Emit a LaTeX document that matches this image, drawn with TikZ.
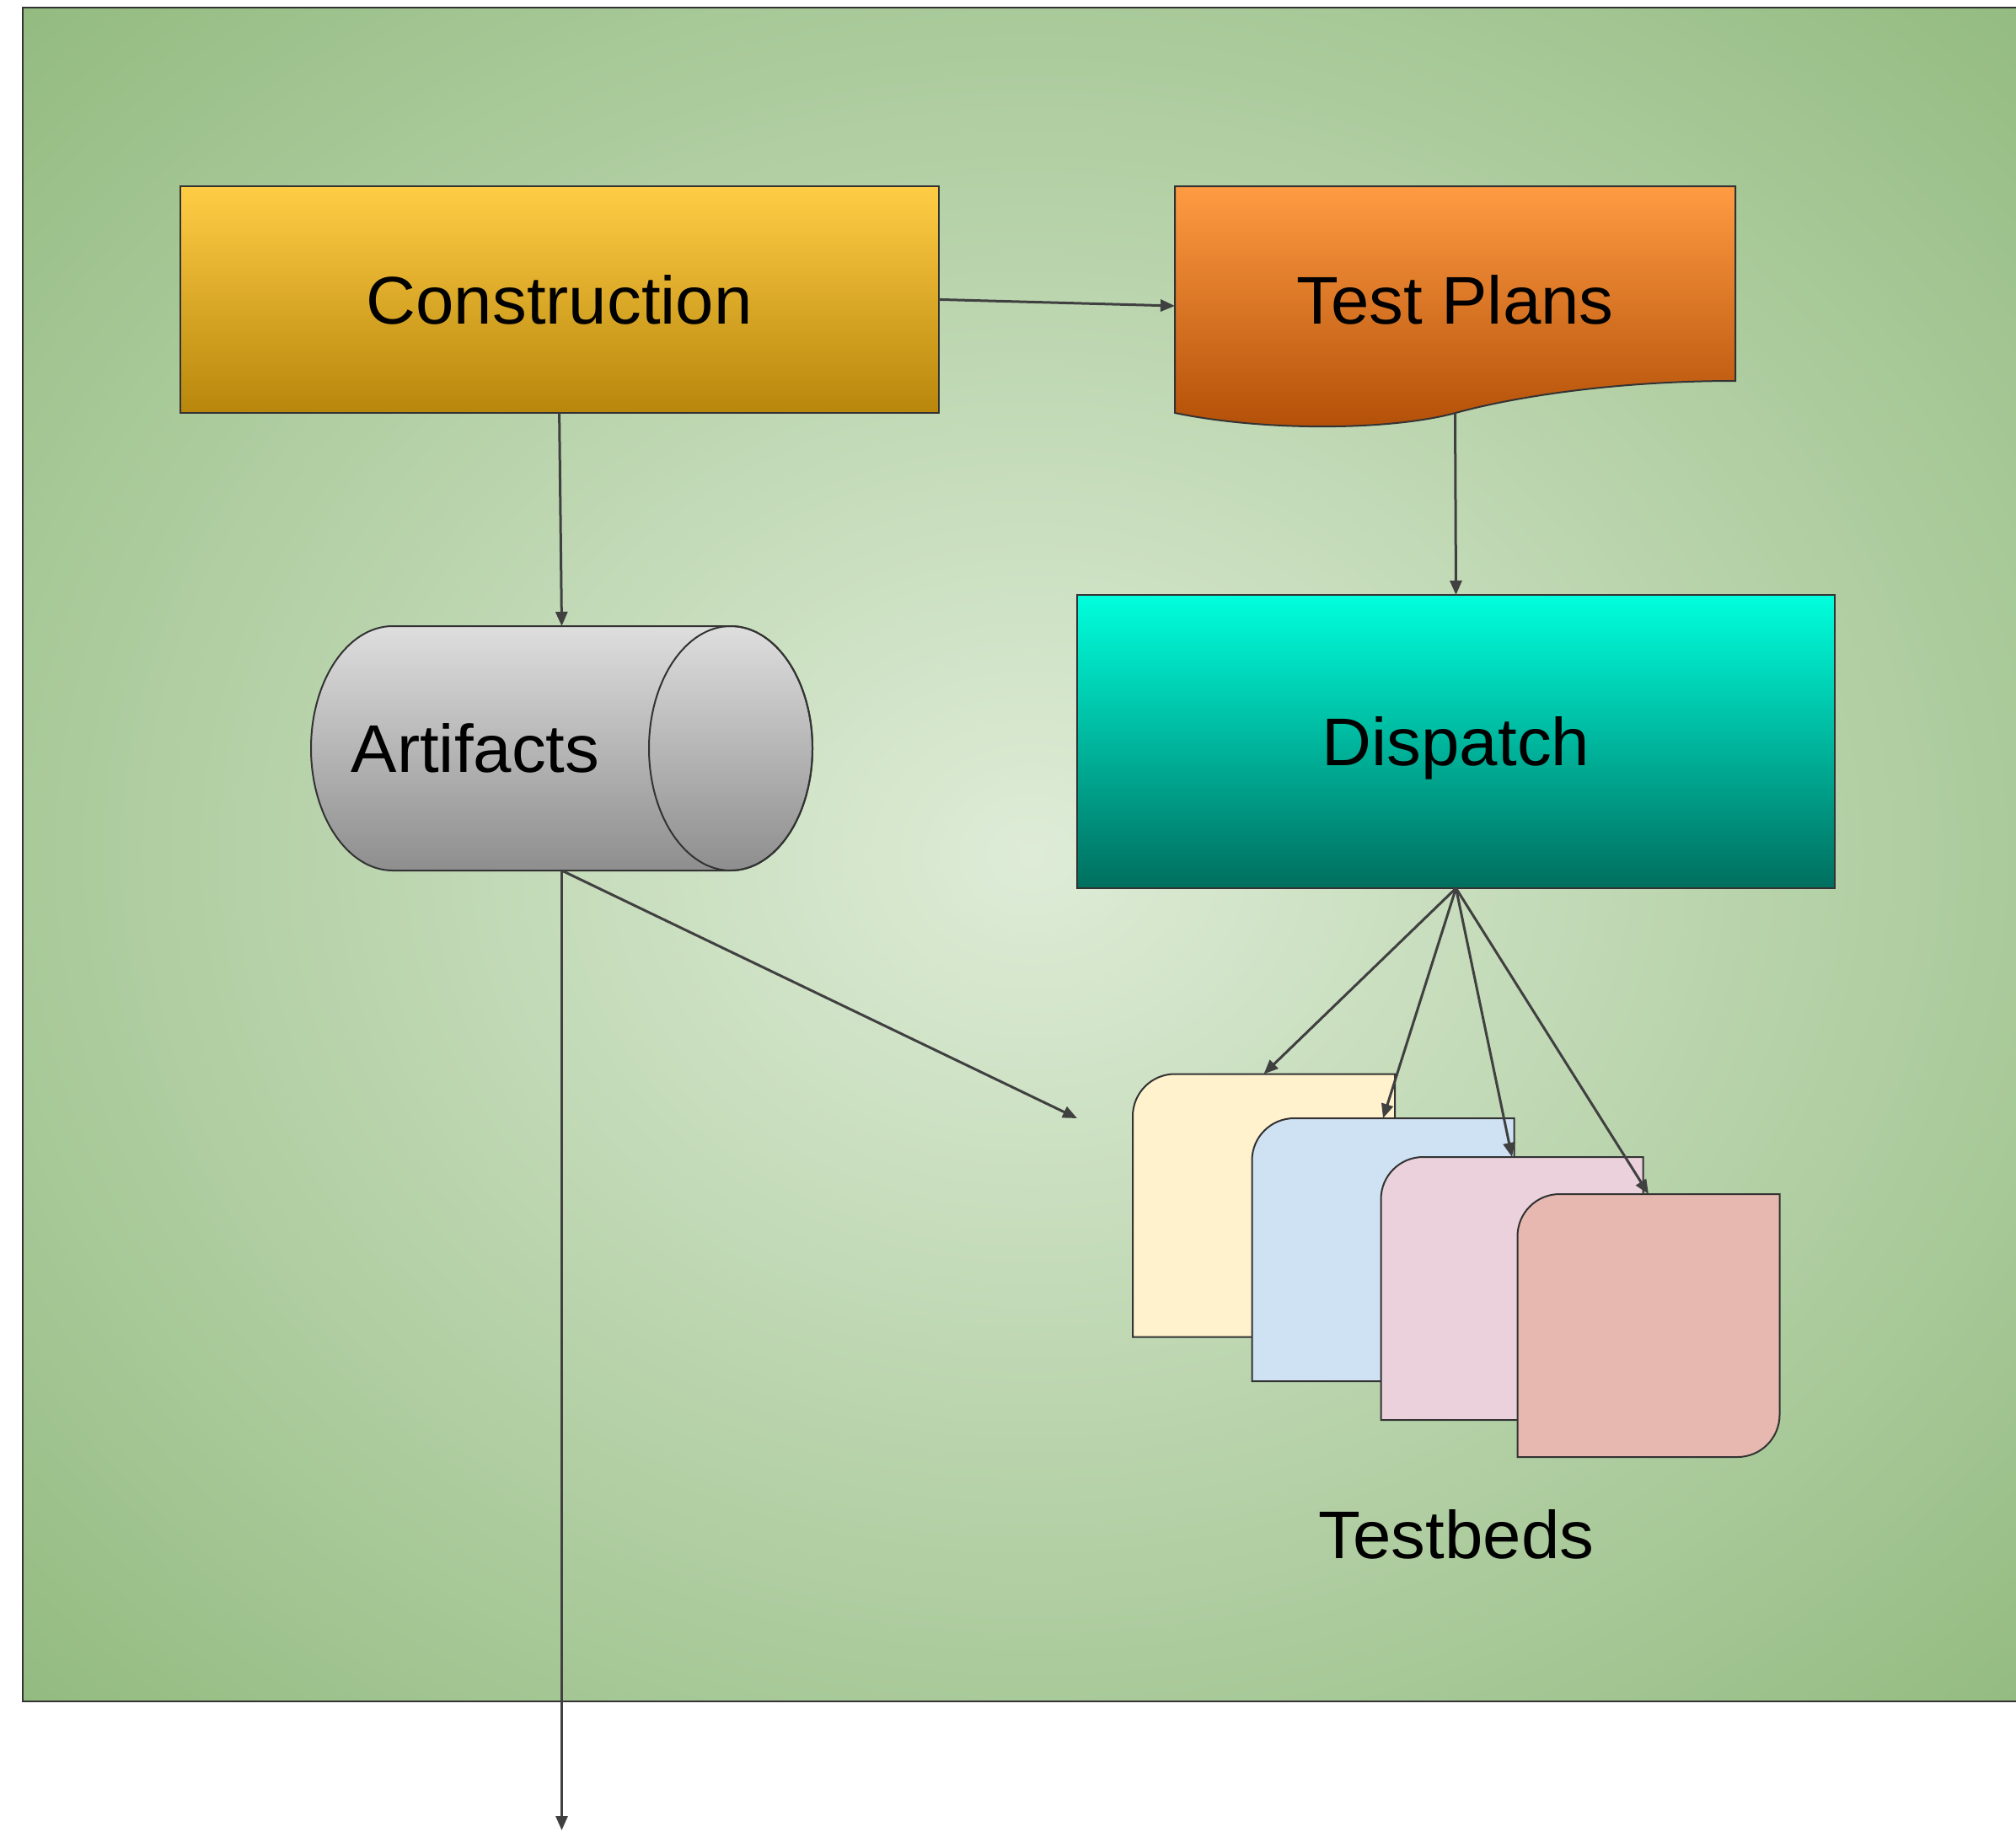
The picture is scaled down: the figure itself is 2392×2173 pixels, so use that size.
\documentclass[tikz,border=0pt]{standalone}
\usepackage{fontspec}
\setmainfont[FakeStretch=1.02]{Liberation Sans}
\usetikzlibrary{arrows.meta}

\definecolor{bgin}{HTML}{DEECD7}
\definecolor{bgout}{HTML}{93BB80}
\definecolor{consTop}{HTML}{FFCD45}
\definecolor{consBot}{HTML}{B8860B}
\definecolor{planTop}{HTML}{FF9B42}
\definecolor{planBot}{HTML}{B24F07}
\definecolor{dispTop}{HTML}{00FFDD}
\definecolor{dispBot}{HTML}{006E5E}
\definecolor{cylTop}{HTML}{DEDEDE}
\definecolor{cylBot}{HTML}{8E8E8E}
\definecolor{cardA}{HTML}{FFF2CC}
\definecolor{cardB}{HTML}{CFE2F3}
\definecolor{cardC}{HTML}{EAD1DC}
\definecolor{cardD}{HTML}{E6B8AF}
\definecolor{edgecol}{HTML}{333333}
\definecolor{flowcol}{HTML}{404040}

% soft glow that keeps darkening all the way into the corners
\pgfdeclareradialshading{bgglow}{\pgfpoint{0bp}{0bp}}{color(0bp)=(bgin); color(35.4bp)=(bgout); color(50bp)=(bgout)}

\begin{document}
\begin{tikzpicture}[x=1pt,y=1pt,
  lbl/.style={font=\fontsize{80}{96}\selectfont, text=black, text depth=0pt},
  boxnode/.style={lbl, draw=edgecol, line width=2pt, inner sep=0pt, outer sep=0pt},
  holder/.style={inner sep=0pt, outer sep=0pt, draw=none},
  cardline/.style={draw=edgecol, line width=2pt},
  flow/.style={draw=flowcol, line width=3pt, -{Triangle[length=17pt,width=14pt]}}]

\useasboundingbox (0,0) rectangle (2392,-2173);

% backdrop panel
\shade[shading=bgglow, draw=edgecol, line width=2.5pt] (27,-9) rectangle (2420,-2019);

% build stage
\node[boxnode, top color=consTop, bottom color=consBot,
      minimum width=900pt, minimum height=269pt] (cons) at (663.6,-355.4) {Construction};

% test plan document with wavy lower edge
\path[draw=edgecol, line width=2pt, top color=planTop, bottom color=planBot]
  (1394,-221) -- (2059,-221) -- (2059,-452)
  .. controls (1920,-452) and (1800,-470) .. (1727,-490)
  .. controls (1650,-511) and (1500,-512) .. (1394,-490) -- cycle;
\node[holder, lbl, minimum width=665pt, minimum height=269pt] (plans) at (1726.5,-355.5) {Test Plans};
\coordinate (plansin) at (1394,-363);

% artifact store (horizontal cylinder)
\node[holder, minimum width=595pt, minimum height=290pt] (art) at (666.5,-888) {};
\path[draw=edgecol, line width=2pt, top color=cylTop, bottom color=cylBot]
  (466,-743) -- (867,-743)
  arc[start angle=90, end angle=-90, x radius=97pt, y radius=145pt]
  -- (466,-1033)
  arc[start angle=270, end angle=90, x radius=97pt, y radius=145pt] -- cycle;
\draw[edgecol, line width=2pt] (867,-888) ellipse[x radius=97pt, y radius=145pt];
\node[lbl] (artlabel) at (564,-888) {Artifacts};

% dispatcher
\node[boxnode, top color=dispTop, bottom color=dispBot,
      minimum width=899pt, minimum height=348pt] (disp) at (1727.5,-880) {Dispatch};

% stacked testbed cards
\node[holder, minimum width=311pt, minimum height=312pt] (tb1) at (1499.5,-1430.5) {};
\node[holder, minimum width=311pt, minimum height=312pt] (tb2) at (1641,-1483) {};
\node[holder, minimum width=311pt, minimum height=312pt] (tb3) at (1794,-1529) {};
\node[holder, minimum width=311pt, minimum height=312pt] (tb4) at (1956,-1573) {};
\foreach \c/\f in {tb1/cardA, tb2/cardB, tb3/cardC, tb4/cardD}{
  \draw[cardline, fill=\f] (\c.south west) -- ([yshift=-50pt]\c.north west)
    arc[start angle=180, end angle=90, radius=50pt] -- (\c.north east)
    -- ([yshift=50pt]\c.south east)
    arc[start angle=0, end angle=-90, radius=50pt] -- cycle;
}
\node[lbl] (tblabel) at (1728,-1820) {Testbeds};

\coordinate (tbin) at (1278,-1327);
\coordinate (artout) at (666.5,-2172);

% connectors
\draw[flow] (cons.east) -- (plansin);
\draw[flow] (cons.south) -- (art.north);
\draw[flow] (plans.south) -- (disp.north);
\draw[flow] (art.south) -- (artout);
\draw[flow] (art.south) -- (tbin);
\draw[flow] (disp.south) -- (tb1.north);
\draw[flow] (disp.south) -- (tb2.north);
\draw[flow] (disp.south) -- (tb3.north);
\draw[flow] (disp.south) -- (tb4.north);
\end{tikzpicture}
\end{document}
